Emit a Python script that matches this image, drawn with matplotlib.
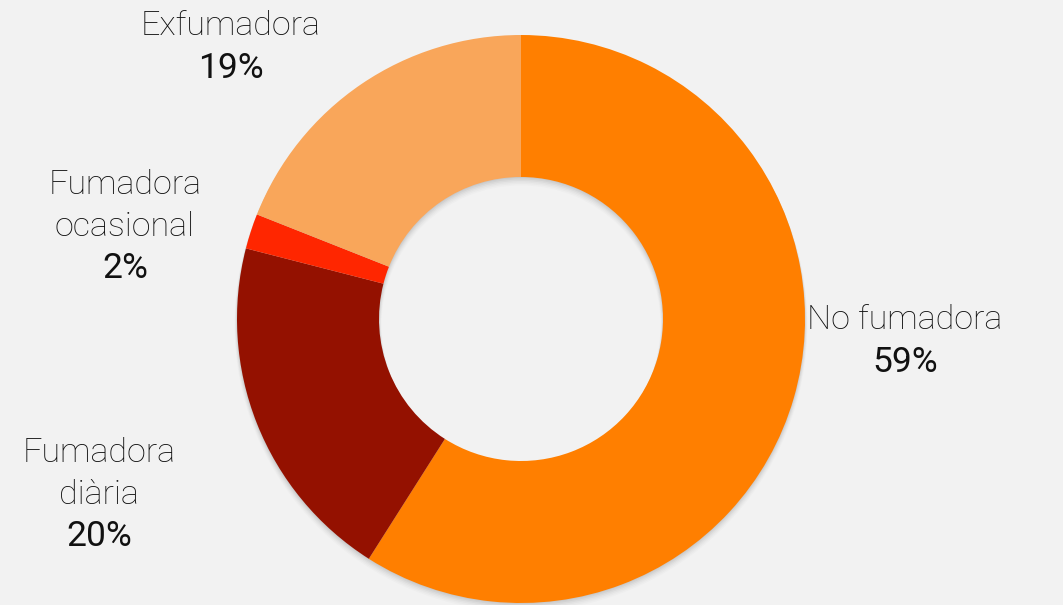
import matplotlib
matplotlib.use("Agg")
import matplotlib.pyplot as plt
from matplotlib.patches import Wedge

# Smoking status breakdown
categories = ["No fumadora", "Fumadora\ndiària", "Fumadora\nocasional", "Exfumadora"]
shares = [59, 20, 2, 19]
colors = ["#FF7F00", "#941100", "#FF2600", "#F9A65A"]

# Label block centres (pixel coordinates, origin bottom-left)
label_xy = [(905, 264), (99, 110), (125, 378), (231, 558)]

W, H = 1063, 605
fig = plt.figure(figsize=(W / 100, H / 100), dpi=100)
fig.patch.set_facecolor("#f2f2f2")
ax = fig.add_axes([0, 0, 1, 1])
ax.set_xlim(0, W)
ax.set_ylim(0, H)
ax.set_aspect("equal")
ax.axis("off")

center = (521, 286)
radius = 284
ring = 0.5

# soft drop shadow under the ring
for i, a in enumerate([0.035, 0.035, 0.03, 0.025, 0.02, 0.015]):
    off = 1 + i
    ax.add_patch(Wedge((center[0], center[1] - off), radius + 0.5 * i, 0, 360,
                       width=radius * ring + i, facecolor="black", alpha=a,
                       edgecolor="none", zorder=1))

ax.pie(shares, colors=colors, startangle=90, counterclock=False,
       center=center, radius=radius, frame=True,
       wedgeprops=dict(width=radius * ring, edgecolor="none", zorder=2))
ax.set_xlim(0, W)
ax.set_ylim(0, H)
ax.axis("off")

line_h = 42
for name, val, (x, y) in zip(categories, shares, label_xy):
    lines = name.split("\n")
    total = len(lines) + 1
    top = y + total * line_h / 2
    for k, line in enumerate(lines):
        ax.text(x, top - line_h / 2 - k * line_h, line, ha="center", va="center",
                fontsize=24.5, family="Roboto", fontweight="light", color="#111111",
                zorder=5)
    ax.text(x, top - line_h / 2 - len(lines) * line_h, f"{val}%", ha="center",
            va="center", fontsize=25.5, family="Roboto", fontweight="normal",
            color="#111111", zorder=5)

fig.savefig("out.png", dpi=100, facecolor=fig.get_facecolor())
